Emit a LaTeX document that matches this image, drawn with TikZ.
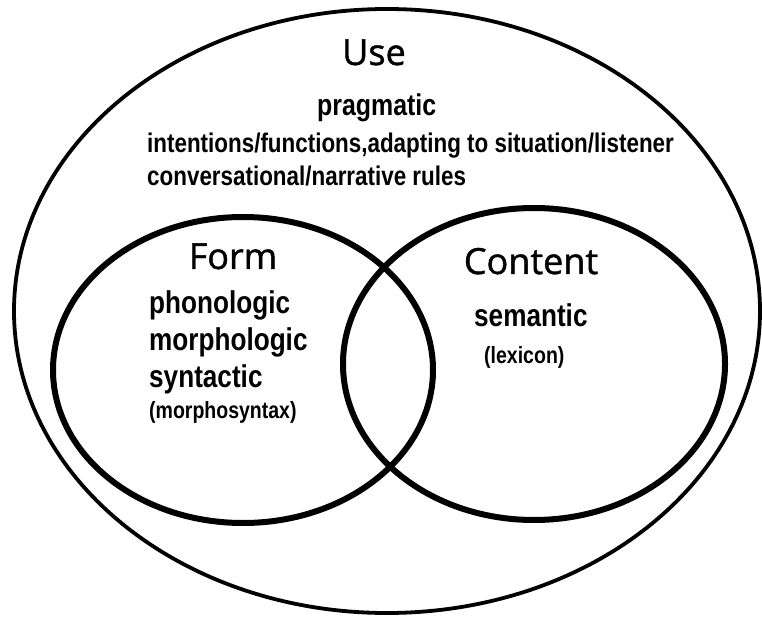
\documentclass[tikz,border=0pt]{standalone}
\usepackage{fontspec}
\newfontfamily\handfont{Open Sans}[FakeBold=1.2]
\newfontfamily\narrowfont{Liberation Sans}[FakeStretch=0.83]
\begin{document}
\begin{tikzpicture}[x=1pt,y=-1pt,
  outerring/.style={line width=3.8pt},
  innerring/.style={line width=6pt},
  heading/.style={font=\handfont\fontsize{36}{40}\selectfont, inner sep=0pt, anchor=base},
  pragtext/.style={font=\narrowfont\bfseries\fontsize{30}{36}\selectfont, inner sep=0pt, anchor=base west},
  usetext/.style={font=\narrowfont\bfseries\fontsize{27}{32}\selectfont, inner sep=0pt, anchor=base west},
  bigtext/.style={font=\narrowfont\bfseries\fontsize{31.5}{36}\selectfont, inner sep=0pt, anchor=base west},
  smalltext/.style={font=\narrowfont\bfseries\fontsize{23.5}{28}\selectfont, inner sep=0pt, anchor=base west}
]
\useasboundingbox (0,0) rectangle (762,617);
\fill[white] (0,0) rectangle (762,617);
% rings
\draw[outerring] (387,311) ellipse [x radius=373pt, y radius=302pt];
\draw[innerring] (243,370) ellipse [x radius=190pt, y radius=153pt];
\draw[innerring] (534,364) ellipse [x radius=191pt, y radius=156pt];
% Use
\node[heading] (use) at (374,65) {Use};
\node[pragtext] (prag) at (317,116) {pragmatic};
\node[usetext] (intent) at (147,153) {intentions/functions,adapting to situation/listener};
\node[usetext] (conv) at (147,186) {conversational/narrative rules};
% Form
\node[heading] (form) at (233,269) {Form};
\node[bigtext] (phon) at (149,313) {phonologic};
\node[bigtext] (morph) at (149,350) {morphologic};
\node[bigtext] (synt) at (149,387) {syntactic};
\node[smalltext] (msyn) at (149,418) {(morphosyntax)};
% Content
\node[heading] (content) at (531,274) {Content};
\node[bigtext] (sem) at (474,326) {semantic};
\node[smalltext] (lex) at (484,363) {(lexicon)};
\end{tikzpicture}
\end{document}
